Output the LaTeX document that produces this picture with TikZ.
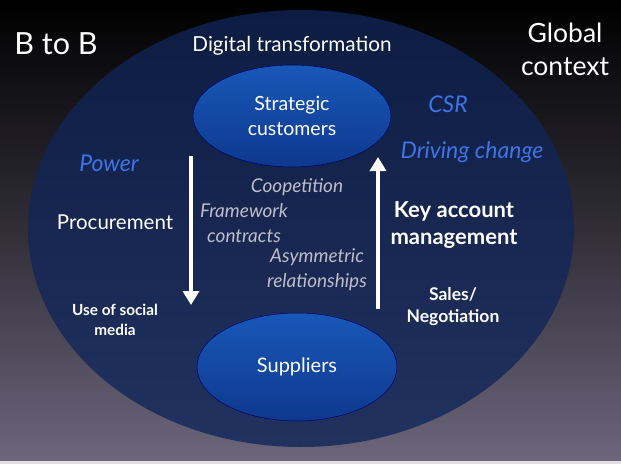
\documentclass[tikz,border=0pt]{standalone}
\usepackage{fontspec}
\setmainfont{Lato}
\usetikzlibrary{shapes.geometric,arrows.meta}
\definecolor{bgtop}{RGB}{0,0,0}
\definecolor{bgbot}{RGB}{108,102,124}
\definecolor{bigtop}{RGB}{12,28,66}
\definecolor{bigbot}{RGB}{34,50,96}
\definecolor{smtop}{RGB}{24,88,184}
\definecolor{smbot}{RGB}{14,56,142}
\definecolor{keyblue}{RGB}{62,116,232}
\definecolor{softgray}{RGB}{190,190,202}
\tikzset{
  lbl/.style={text=white, align=center, inner sep=0pt},
  bluelbl/.style={text=keyblue, font=\fontsize{23}{25}\selectfont\itshape, inner sep=0pt},
  graylbl/.style={text=softgray, font=\fontsize{19}{25}\selectfont\itshape, align=center, inner sep=0pt},
  inner/.style={ellipse, draw=black!60!blue, line width=0.5pt, top color=smtop, bottom color=smbot,
     text=white, font=\fontsize{19.5}{24.5}\selectfont, align=center, inner sep=0pt},
  bigarrow/.style={white, line width=4pt, -{Triangle[length=14pt,width=16pt]}}
}
\begin{document}
\begin{tikzpicture}[x=1pt,y=-1pt]
\useasboundingbox (0,0) rectangle (621,464);
\shade[top color=bgtop, bottom color=bgbot, middle color=bgtop!55!bgbot] (0,0) rectangle (621,461);
\fill[black!12] (0,461) rectangle (621,464);
\shade[top color=bigtop, bottom color=bigbot] (301,228.5) ellipse [x radius=273, y radius=218.5];
\node[inner, minimum width=198pt, minimum height=102pt] (cust) at (292,116) {Strategic\\customers};
\node[inner, minimum width=200pt, minimum height=108pt, font=\fontsize{20}{24}\selectfont] (supp) at (297,367) {Suppliers};
\node[lbl, font=\fontsize{30.5}{33}\selectfont] (btob) at (56,44) {B to B};
\node[lbl, font=\fontsize{26.5}{33}\selectfont] (glob) at (565,49) {Global\\context};
\node[lbl, font=\fontsize{20.7}{23}\selectfont] (digi) at (292,46) {Digital transformation};
\node[bluelbl] (csr) at (448,104) {CSR};
\node[bluelbl] (power) at (109,163) {Power};
\node[bluelbl] (drive) at (472,152) {Driving change};
\node[lbl, font=\fontsize{20.5}{23}\selectfont] (proc) at (115,222) {Procurement};
\node[graylbl] (coop) at (297,187) {Coopetition};
\node[graylbl] (frame) at (244,223) {Framework\\contracts};
\node[graylbl] (asym) at (317,270) {Asymmetric\\relationships};
\node[lbl, font=\bfseries\fontsize{22}{27}\selectfont] (kam) at (454,225) {Key account\\management};
\node[lbl, font=\bfseries\fontsize{15.3}{20}\selectfont] (social) at (115,320) {Use of social\\media};
\node[lbl, font=\bfseries\fontsize{17.5}{22}\selectfont] (sales) at (453,307) {Sales/\\Negotiation};
\coordinate (dtop) at (191,156);
\coordinate (dbot) at (191,305);
\coordinate (ubot) at (378,309);
\coordinate (utop) at (378,157);
\draw[bigarrow] (dtop) -- (dbot);
\draw[bigarrow] (ubot) -- (utop);
\end{tikzpicture}
\end{document}
